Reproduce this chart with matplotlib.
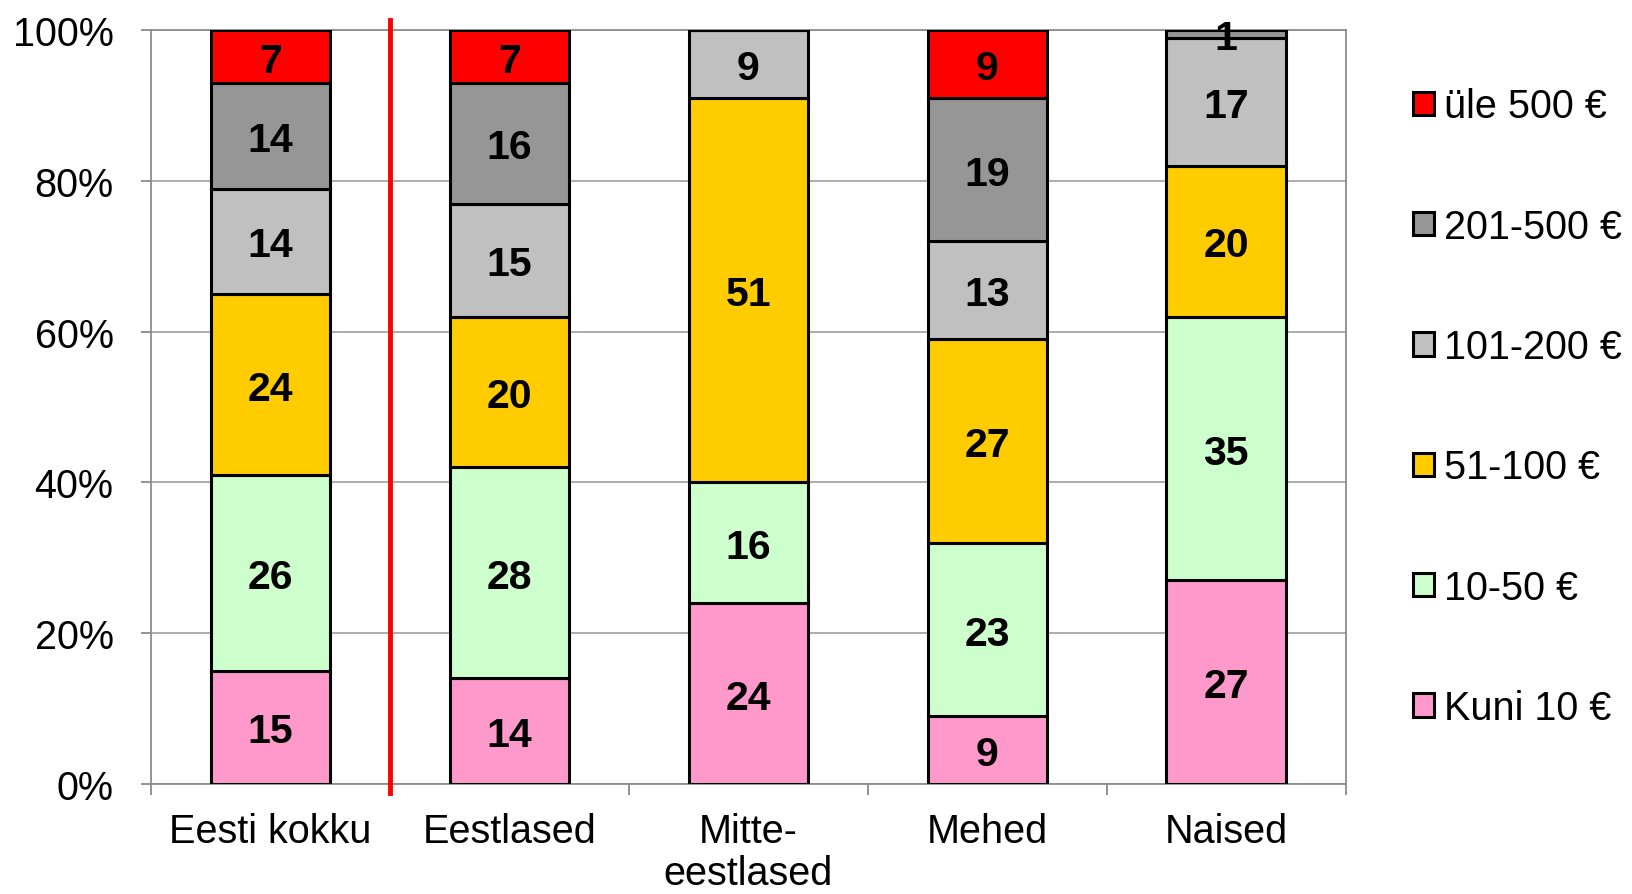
import numpy as np
import matplotlib
matplotlib.use("Agg")
import matplotlib.pyplot as plt

plt.rcParams['font.family'] = ['Liberation Sans', 'DejaVu Sans']

groups = ["Eesti kokku", "Eestlased", "Mitte-\neestlased", "Mehed", "Naised"]
series = ["Kuni 10 €", "10-50 €", "51-100 €", "101-200 €", "201-500 €", "üle 500 €"]
colors = ["#FF99CC", "#CCFFCC", "#FFCC00", "#C0C0C0", "#969696", "#FF0000"]

kuni10 = [15, 14, 24, 9, 27]
v10_50 = [26, 28, 16, 23, 35]
v51_100 = [24, 20, 51, 27, 20]
v101_200 = [14, 15, 9, 13, 17]
v201_500 = [14, 16, 0, 19, 1]
yle500 = [7, 7, 0, 9, 0]
values = [kuni10, v10_50, v51_100, v101_200, v201_500, yle500]

fig = plt.figure(figsize=(16.33, 8.95), dpi=100)
ax = fig.add_axes([0.0925, 0.123, 0.7315, 0.842])

x = np.arange(len(groups))
bottom = np.zeros(len(groups))
handles = []
for name, col, vals in zip(series, colors, values):
    vals = np.array(vals, dtype=float)
    b = ax.bar(x, vals, 0.5, bottom=bottom, color=col, edgecolor="black",
               linewidth=2.2, label=name, zorder=3)
    handles.append(b)
    for xi, v, b0 in zip(x, vals, bottom):
        if v > 0:
            # baseline shifted so the digits sit centred in the segment
            ax.text(xi, b0 + v / 2 - 2.0, "%d" % v, ha="center", va="baseline",
                    fontsize=29.5, fontweight="bold", zorder=4)
    bottom += vals

ax.set_xlim(-0.5, len(groups) - 0.5)
ax.set_ylim(0, 100)
ax.set_yticks(np.arange(0, 101, 20))
ax.set_yticklabels(["%d%%" % t for t in range(0, 101, 20)])
ax.yaxis.grid(True, color="#A6A6A6", linewidth=1.3, zorder=0)
ax.set_axisbelow(True)

ax.set_xticks(x)
ax.set_xticklabels(groups, linespacing=1.15)
ax.set_xticks(np.arange(-0.5, len(groups)), minor=True)
ax.tick_params(axis="x", which="major", length=0, pad=20, labelsize=28.5)
ax.tick_params(axis="x", which="minor", length=8, width=1.2, color="#808080")
ax.tick_params(axis="y", length=7, width=1.2, color="#808080", pad=20, labelsize=28.5)
for s in ax.spines.values():
    s.set_color("#8C8C8C")
    s.set_linewidth(1.3)

ax.plot([0.5, 0.5], [-1.2, 101.4], color="#FF0000", linewidth=3.5,
        clip_on=False, zorder=5)

leg = ax.legend(handles[::-1], series[::-1], loc="center left",
                bbox_to_anchor=(1.027, 0.5), frameon=False, fontsize=28.5,
                handlelength=0.53, handleheight=0.53, handletextpad=0.25,
                labelspacing=2.08)

fig.savefig("out.png", dpi=100)
